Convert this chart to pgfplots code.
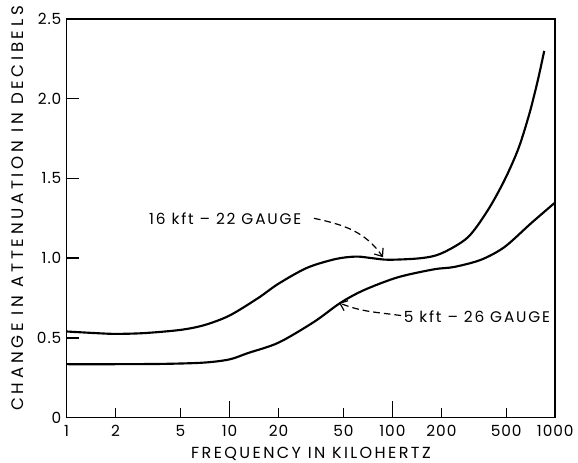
\documentclass[border=0pt]{standalone}
\usepackage{fontspec}
\setmainfont{Poppins}[LetterSpace=6]
\newfontfamily\labelfont{Poppins}[LetterSpace=15]
\newfontfamily\ylabelfont{Poppins}[LetterSpace=22]
\newfontfamily\notefont{Poppins}[LetterSpace=12]
\usepackage{pgfplots}
\pgfplotsset{compat=1.18}
\usetikzlibrary{calc,arrows.meta}

\begin{document}
\begin{tikzpicture}
\begin{axis}[name=ax,
  scale only axis, width=366pt, height=298.5pt,
  xmode=log, xmin=1, xmax=1000, ymin=0, ymax=2.5,
  xtick={1,2,5,10,20,50,100,200,500,1000},
  xticklabels={1,2,5,10,20,50,100,200,500,1000},
  ytick={0,0.5,1,1.5,2,2.5},
  yticklabels={0,0.5,1.0,1.5,2.0,2.5},
  xtick pos=left, ytick pos=left, major tick length=0pt,
  every axis/.append style={line width=1.3pt},
  tick label style={font=\fontsize{11.5}{13}\selectfont},
  xticklabel style={yshift=-2pt},
  xlabel={FREQUENCY IN KILOHERTZ},
  ylabel={CHANGE IN ATTENUATION IN DECIBELS},
  xlabel style={font=\labelfont\fontsize{12}{14}\selectfont,
    at={(axis description cs:0.5,-0.0905)}, anchor=center},
  ylabel style={font=\ylabelfont\fontsize{12.5}{14}\selectfont,
    at={(axis description cs:-0.0993,0.525)}, anchor=center},
  clip=false,
]
% tick marks in axis units: short ones, longer at 10 and 100
\pgfplotsinvokeforeach{2,5,20,50,200,500}{
  \draw[line width=1pt] (axis cs:#1,0) -- (axis cs:#1,0.057);
}
\pgfplotsinvokeforeach{10,100}{
  \draw[line width=1pt] (axis cs:#1,0) -- (axis cs:#1,0.107);
}
\pgfplotsinvokeforeach{0.5,1,1.5,2}{
  \draw[line width=1pt] (axis cs:1,#1) -- (axis cs:1.185,#1);
}
% 16 kft - 22 gauge
\addplot[line width=1.6pt, smooth, tension=0.5] coordinates {
  (1,0.54) (1.5,0.53) (2,0.525) (3,0.53) (5,0.55) (7,0.58) (10,0.64)
  (15,0.75) (20,0.84) (30,0.94) (45,0.995) (60,1.01) (75,1.0) (95,0.99)
  (150,1.0) (200,1.03) (290,1.13) (385,1.30) (488,1.49) (595,1.69)
  (695,1.91) (783,2.12) (855,2.30)
};
% 5 kft - 26 gauge
\addplot[line width=1.6pt, smooth, tension=0.5] coordinates {
  (1,0.335) (2,0.335) (4,0.337) (7,0.345) (10,0.365) (13,0.405) (20,0.47)
  (33,0.60) (48,0.72) (67,0.80) (108,0.88) (180,0.93) (240,0.945)
  (350,0.99) (488,1.07) (712,1.22) (1000,1.35)
};
\node[anchor=west, font=\notefont\fontsize{11.5}{13}\selectfont, inner sep=0pt]
  at (axis cs:3.17,1.247) {16 kft – 22 GAUGE};
\draw[line width=0.9pt, dash pattern=on 5pt off 3pt, -{Straight Barb[length=5pt,width=8pt]}]
  (axis cs:33,1.25) to[out=-12, in=125] (axis cs:87.6,1.006);
\node[anchor=west, font=\notefont\fontsize{11.5}{13}\selectfont, inner sep=0pt]
  at (axis cs:116,0.633) {5 kft – 26 GAUGE};
\draw[line width=0.9pt, dash pattern=on 5pt off 3pt, -{Straight Barb[length=5pt,width=8pt]}]
  (axis cs:113,0.64) to[out=172, in=-22] (axis cs:47,0.72);
\end{axis}
\pgfresetboundingbox
\path ($(ax.south west)+(-49.9pt,-33.75pt)$) rectangle ($(ax.north east)+(17pt,14.25pt)$);
\end{tikzpicture}
\end{document}
